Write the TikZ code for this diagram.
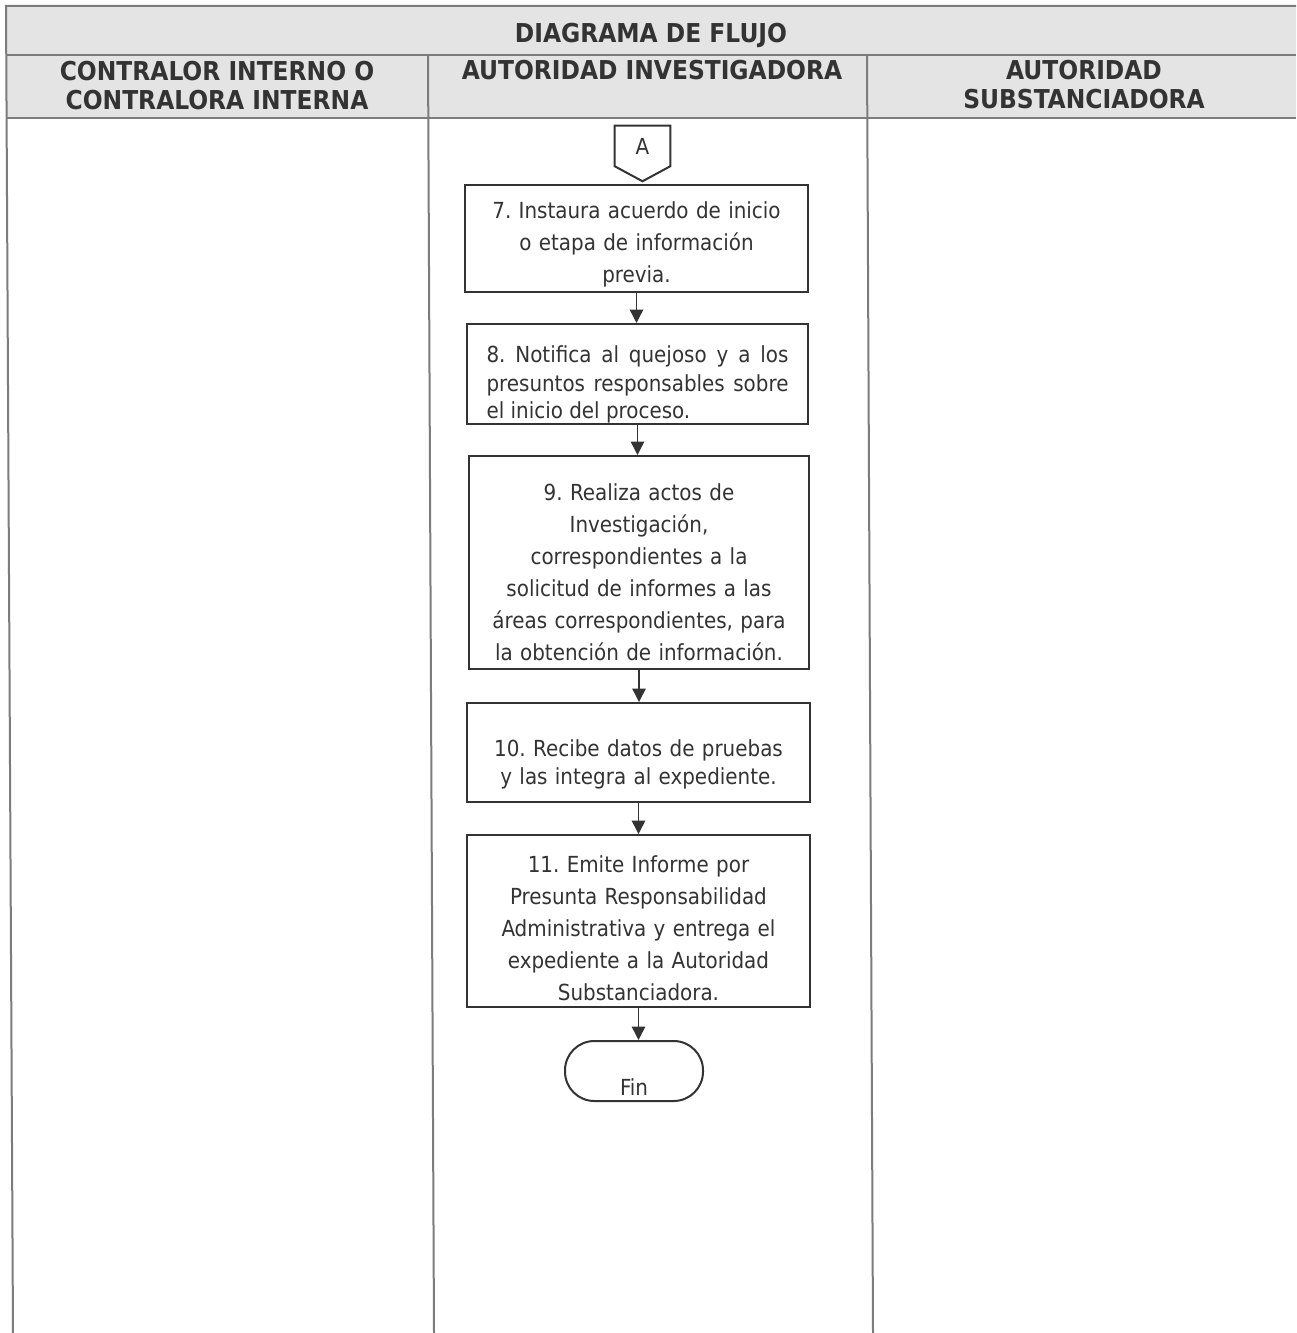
\documentclass[tikz,border=0pt]{standalone}
\usepackage{fontspec}
\setmainfont{DejaVu Sans Condensed}
\usetikzlibrary{arrows.meta}
\definecolor{ink}{HTML}{333333}
\definecolor{rulec}{HTML}{7C7C7C}
\definecolor{hdr}{HTML}{E4E4E4}
\frenchspacing
\begin{document}
\frenchspacing
\begin{tikzpicture}[x=0.75pt,y=-0.75pt,
  hdrtext/.style={text=ink, font=\fontsize{19.5}{21.75}\bfseries\selectfont, align=center, inner sep=0pt, anchor=north},
  box/.style={draw=ink, line width=1.5pt, text=ink, inner ysep=0pt, inner xsep=3pt, anchor=north, align=center},
  body/.style={font=\fontsize{16.6}{24}\selectfont},
  bodytight/.style={font=\fontsize{16.6}{21}\selectfont},
  flow/.style={draw=ink, line width=1.1pt, -{Triangle[length=10pt,width=10pt]}},
  tab/.style={draw=rulec, line width=1.5pt}]

\fill[white] (0,0) rectangle (1296,1333);
\useasboundingbox (0,0) rectangle (1296,1333);

% table
\fill[hdr] (6,6) -- (1296,6) -- (1296,118) -- (6.6,118) -- cycle;
\draw[tab] (1296,6) -- (6,6) -- (13,1333);
\draw[tab] (6,55) -- (1296,55);
\draw[tab] (6.6,118) -- (1296,118);
\draw[tab] (428,55) -- (434,1333);
\draw[tab] (867,55) -- (873,1333);

\node[hdrtext] (title) at (651,6) {\rule{0pt}{27pt}DIAGRAMA DE FLUJO\rule[-9.75pt]{0pt}{9.75pt}};
\node[hdrtext] (lane1) at (217,55) {\rule{0pt}{18.75pt}CONTRALOR INTERNO O\\CONTRALORA INTERNA\rule[-6.75pt]{0pt}{6.75pt}};
\node[hdrtext] (lane2) at (652,55) {\rule{0pt}{18pt}AUTORIDAD INVESTIGADORA};
\node[hdrtext] (lane3) at (1084,55) {\rule{0pt}{18pt}AUTORIDAD\\SUBSTANCIADORA\rule[-7.5pt]{0pt}{7.5pt}};

% off-page connector
\node[text=ink, font=\fontsize{16.6}{18}\selectfont, minimum width=41.25pt, minimum height=30pt, inner sep=0pt] (conA) at (642.5,146) {A};
\draw[draw=ink, line width=1.5pt] (conA.south west) -- (conA.north west) -- (conA.north east) -- (conA.south east) -- ([yshift=-11.25pt]conA.south) -- cycle;

% process boxes
\node[box, body, text width=251.25pt] (b7) at (636.5,184)
  {\rule{0pt}{25.5pt}7. Instaura acuerdo de inicio\\o etapa de información\\previa.\rule[-6.75pt]{0pt}{6.75pt}};
\node[box, bodytight, inner xsep=14.6pt, text width=226.5pt, align=justify] (b8) at (637.5,323)
  {\rule{0pt}{29.25pt}8. Notifica al quejoso y a los\linebreak presuntos responsables sobre\linebreak el inicio del proceso.\rule[-3pt]{0pt}{3pt}};
\node[box, body, text width=249pt] (b9) at (639,455)
  {\rule{0pt}{33pt}9. Realiza actos de\\Investigación,\\correspondientes a la\\solicitud de informes a las\\áreas correspondientes, para\\la obtención de información.\rule[-6.75pt]{0pt}{6.75pt}};
\node[box, bodytight, text width=251.25pt] (b10) at (638.5,702)
  {\rule{0pt}{39.75pt}10. Recibe datos de pruebas\\y las integra al expediente.\rule[-13.5pt]{0pt}{13.5pt}};
\node[box, body, text width=251.25pt] (b11) at (638.5,834)
  {\rule{0pt}{27.75pt}11. Emite Informe por\\Presunta Responsabilidad\\Administrativa y entrega el\\expediente a la Autoridad\\Substanciadora.\rule[-5.25pt]{0pt}{5.25pt}};
\node[box, body, rounded corners=22pt, minimum width=103.5pt, inner xsep=0pt] (fin) at (634,1040)
  {\rule{0pt}{40.5pt}Fin\rule[-4.5pt]{0pt}{4.5pt}};

% connectors
\draw[flow] (b7.south) -- (b7.south |- b8.north);
\draw[flow] (b8.south) -- (b8.south |- b9.north);
\draw[flow] (b9.south) -- (b9.south |- b10.north);
\draw[flow] (b10.south) -- (b10.south |- b11.north);
\draw[flow] (b11.south) -- (b11.south |- fin.north);
\end{tikzpicture}
\end{document}
